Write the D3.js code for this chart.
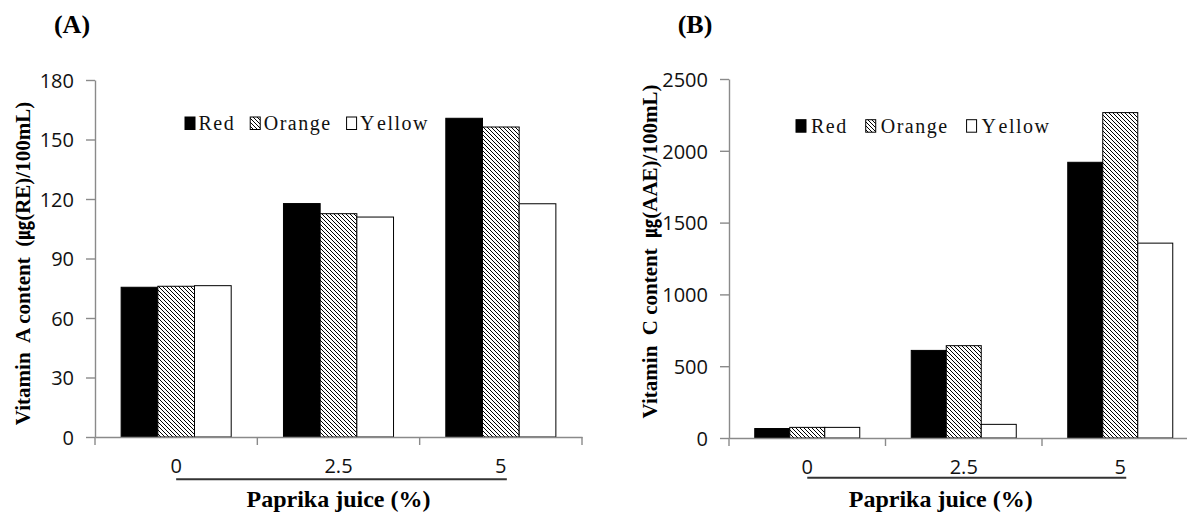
<!DOCTYPE html>
<html>
<head>
<meta charset="utf-8">
<script src="https://cdn.jsdelivr.net/npm/d3@7"></script>
<style>
  html, body { margin: 0; padding: 0; background: #fff; }
  svg { display: block; }
</style>
</head>
<body>
<svg id="chart" width="1187" height="513"></svg>
<script>
// ---------------- DATA ----------------
const categories = ["0", "2.5", "5"];
const seriesNames = ["Red", "Orange", "Yellow"];

const vitaminA_red    = [75.5, 117.7, 160.7];
const vitaminA_orange = [76.0, 112.6, 156.3];
const vitaminA_yellow = [76.3, 110.9, 117.6];

const vitaminC_red    = [66, 610, 1920];
const vitaminC_orange = [74, 643, 2266];
const vitaminC_yellow = [74, 95, 1357];

const yTicksA = [0, 30, 60, 90, 120, 150, 180];
const yTicksC = [0, 500, 1000, 1500, 2000, 2500];

const panelLabels = ["(A)", "(B)"];
const xTitle = "Paprika juice (%)";
const yTitleA = ["Vitamin  A content  (", "㎍", "(RE)/100mL)"];
const yTitleC = ["Vitamin  C content  ", "㎍", "(AAE)/100mL)"];

// ---------------- LAYOUT ----------------
const svg = d3.select("#chart");
const defs = svg.append("defs");
const pat = defs.append("pattern")
  .attr("id", "hatch").attr("patternUnits", "userSpaceOnUse")
  .attr("width", 4).attr("height", 4);
pat.append("rect").attr("width", 4).attr("height", 4).attr("fill", "#fff");
pat.append("path")
  .attr("d", "M0,0 L4,4 M-1,3 L1,5 M3,-1 L5,1")
  .attr("stroke", "#000").attr("stroke-width", 1.0);

const fills = { Red: "#000", Orange: "url(#hatch)", Yellow: "#fff" };
const SERIF = "'Liberation Serif','Times New Roman',serif";
const SANS = "'Open Sans','Noto Sans',sans-serif";

const panels = [
  {
    label: panelLabels[0], labelPos: [72, 33],
    values: [vitaminA_red, vitaminA_orange, vitaminA_yellow],
    ticks: yTicksA, yMax: 180,
    xRange: [95, 582], yRange: [437, 80], padInner: 0.322,
    yTitle: yTitleA, yTitlePos: [23, 263.5],
    legend: { x: 185, y: 130, textGap: 13.5, itemGap: 15 },
    underlineY: 479.3, xTitleShift: 0
  },
  {
    label: panelLabels[1], labelPos: [695, 33],
    values: [vitaminC_red, vitaminC_orange, vitaminC_yellow],
    ticks: yTicksC, yMax: 2500,
    xRange: [729, 1198.5], yRange: [438, 79], padInner: 0.329,
    yTitle: yTitleC, yTitlePos: [650, 251.5],
    legend: { x: 796, y: 132.7, textGap: 15, itemGap: 18 },
    underlineY: 477.7, xTitleShift: -23
  }
];

const AXIS_COLOR = "#8a8a8a";

panels.forEach(p => {
  const g = svg.append("g");

  const x0 = d3.scaleBand().domain(categories).range(p.xRange)
    .paddingInner(p.padInner).paddingOuter(p.padInner / 2);
  const x1 = d3.scaleBand().domain(seriesNames).range([0, x0.bandwidth()]).padding(0);
  const y = d3.scaleLinear().domain([0, p.yMax]).range(p.yRange);

  // panel label
  g.append("text").attr("x", p.labelPos[0]).attr("y", p.labelPos[1])
    .attr("text-anchor", "middle").attr("font-family", SERIF)
    .attr("font-weight", "bold").attr("font-size", 26).text(p.label);

  // bars
  const data = [];
  categories.forEach((c, i) => {
    seriesNames.forEach((s, j) => data.push({ c, s, v: p.values[j][i] }));
  });
  g.append("g").selectAll("rect").data(data).join("rect")
    .attr("x", d => x0(d.c) + x1(d.s))
    .attr("width", x1.bandwidth())
    .attr("y", d => y(d.v))
    .attr("height", d => y(0) - y(d.v))
    .attr("fill", d => fills[d.s])
    .attr("stroke", "#000").attr("stroke-width", 1);

  // y axis
  const yAxis = g.append("g").attr("transform", `translate(${p.xRange[0]},0)`)
    .call(d3.axisLeft(y).tickValues(p.ticks).tickFormat(d3.format("d"))
      .tickSize(9).tickPadding(12).tickSizeOuter(0));
  yAxis.select(".domain").attr("stroke", AXIS_COLOR).attr("stroke-width", 1.4);
  yAxis.selectAll(".tick line").attr("stroke", AXIS_COLOR).attr("stroke-width", 1.4);
  yAxis.selectAll(".tick text").attr("font-family", SANS).attr("font-size", 20)
    .attr("fill", "#111").attr("dy", "0.36em");

  // x axis: labels at band centers
  const xAxis = g.append("g").attr("transform", `translate(0,${y(0)})`)
    .call(d3.axisBottom(x0).tickSize(0).tickPadding(21.5).tickSizeOuter(0));
  xAxis.select(".domain").attr("stroke", AXIS_COLOR).attr("stroke-width", 1.4);
  xAxis.selectAll(".tick text").attr("font-family", SANS).attr("font-size", 20)
    .attr("fill", "#111");

  // x boundary ticks
  const step = x0.step();
  const bounds = categories.map(c => x0(c) - step * x0.paddingInner() / 2);
  bounds.push(bounds[bounds.length - 1] + step);
  g.append("g").selectAll("line").data(bounds).join("line")
    .attr("x1", d => d).attr("x2", d => d)
    .attr("y1", y(0)).attr("y2", y(0) + 8)
    .attr("stroke", AXIS_COLOR).attr("stroke-width", 1.4);

  // underline bracket
  const first = x0(categories[0]) + x0.bandwidth() / 2;
  const last = x0(categories[categories.length - 1]) + x0.bandwidth() / 2 + 6;
  g.append("line").attr("x1", first).attr("x2", last)
    .attr("y1", p.underlineY).attr("y2", p.underlineY)
    .attr("stroke", "#333").attr("stroke-width", 2);

  // x title
  g.append("text")
    .attr("x", (bounds[0] + bounds[bounds.length - 1]) / 2 + p.xTitleShift)
    .attr("y", 507).attr("text-anchor", "middle")
    .attr("font-family", SERIF).attr("font-weight", "bold").attr("font-size", 24)
    .text(xTitle);

  // y title
  const yt = g.append("text")
    .attr("transform", `translate(${p.yTitlePos[0]},${p.yTitlePos[1]}) rotate(-90)`)
    .attr("text-anchor", "middle").attr("dy", "0.35em")
    .attr("font-family", SERIF).attr("font-weight", "bold").attr("font-size", 21)
    .style("white-space", "pre");
  yt.append("tspan").text(p.yTitle[0]);
  yt.append("tspan").attr("font-family", "'Noto Sans CJK KR','Noto Sans',sans-serif")
    .attr("font-size", 19).text(p.yTitle[1]);
  yt.append("tspan").text(p.yTitle[2]);

  // legend
  let lx = p.legend.x;
  const ly = p.legend.y;
  seriesNames.forEach(s => {
    g.append("rect").attr("x", lx).attr("y", ly - 13).attr("width", 10).attr("height", 12.5)
      .attr("fill", fills[s]).attr("stroke", "#000").attr("stroke-width", 1);
    const t = g.append("text").attr("x", lx + p.legend.textGap).attr("y", ly)
      .attr("font-family", SERIF).attr("font-size", 20).attr("letter-spacing", 1.5)
      .attr("fill", "#111");
    if (s === "Yellow") {
      t.append("tspan").text("Y");
      t.append("tspan").attr("dx", 3).text("ellow");
    } else {
      t.text(s);
    }
    const w = t.node().getComputedTextLength();
    lx = lx + p.legend.textGap + w + p.legend.itemGap;
  });
});
</script>
</body>
</html>
